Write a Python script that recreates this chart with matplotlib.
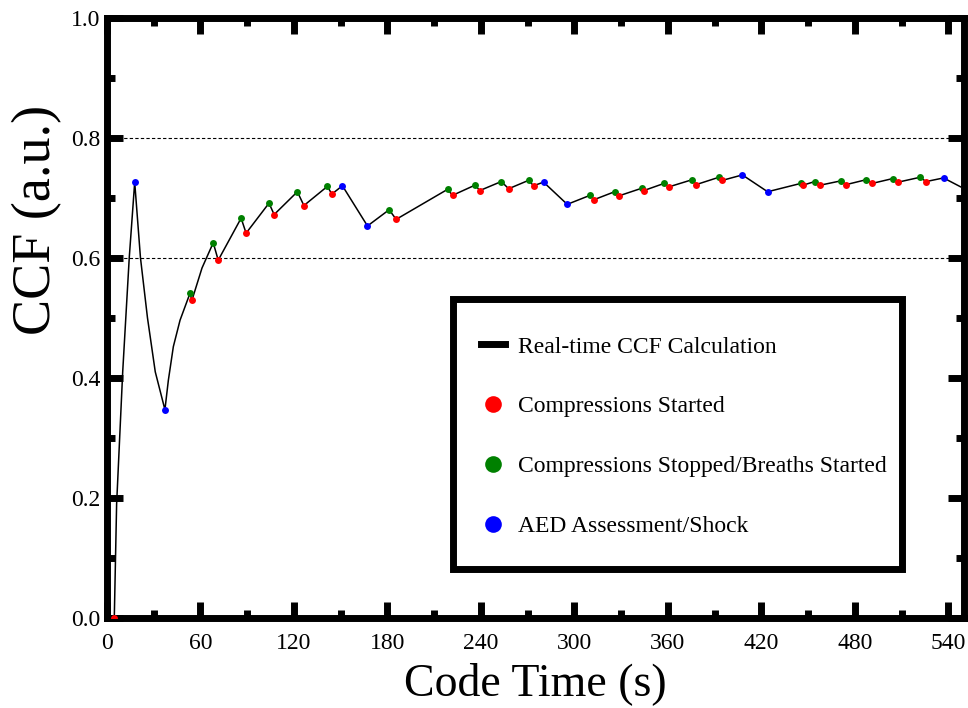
import matplotlib
matplotlib.use("Agg")
import matplotlib.pyplot as plt
from matplotlib.lines import Line2D
from matplotlib.patches import Rectangle
from matplotlib.ticker import MultipleLocator

# Ereignisse (Zeit in s, CCF-Wert)
started_t = [4.7, 54.5, 71.4, 89.3, 107.3, 126.4, 144.3, 185.6, 221.8, 239.3,
             257.8, 273.8, 312.8, 328.4, 344.6, 360.5, 378.3, 395.0, 446.8,
             457.9, 474.6, 491.3, 507.8, 525.8]
started_v = [0.0, 0.529, 0.596, 0.641, 0.672, 0.687, 0.706, 0.664, 0.704, 0.712,
             0.715, 0.720, 0.697, 0.703, 0.712, 0.718, 0.722, 0.729, 0.721,
             0.721, 0.722, 0.724, 0.726, 0.727]

stopped_t = [53.3, 68.2, 86.1, 104.0, 122.2, 141.5, 181.1, 218.6, 236.2, 253.1,
             270.6, 310.0, 325.8, 343.4, 357.7, 375.5, 392.6, 445.5, 454.3,
             470.8, 487.2, 504.4, 521.7]
stopped_v = [0.541, 0.625, 0.666, 0.691, 0.710, 0.719, 0.680, 0.714, 0.721, 0.727,
             0.729, 0.704, 0.710, 0.716, 0.724, 0.730, 0.734, 0.724, 0.727,
             0.728, 0.730, 0.732, 0.734]

aed_t = [17.8, 37.2, 151.1, 167.2, 280.2, 295.4, 407.8, 424.0, 536.9]
aed_v = [0.726, 0.347, 0.720, 0.653, 0.726, 0.689, 0.738, 0.710, 0.733]

# zusaetzliche Kurvenpunkte zwischen den Ereignissen
curve_t = [6.2, 10.1, 14.3, 21.5, 26.0, 31.0, 39.4, 42.6, 46.9, 61.0, 548.0]
curve_v = [0.19, 0.41, 0.60, 0.60, 0.50, 0.41, 0.396, 0.452, 0.496, 0.583, 0.718]

legend_labels = ["Real-time CCF Calculation", "Compressions Started",
                 "Compressions Stopped/Breaths Started", "AED Assessment/Shock"]

plt.rcParams["font.family"] = ["Liberation Serif", "DejaVu Serif"]

pts = sorted(zip(started_t + stopped_t + aed_t + curve_t,
                 started_v + stopped_v + aed_v + curve_v))
line_t = [p[0] for p in pts]
line_v = [p[1] for p in pts]

fig = plt.figure(figsize=(9.68, 7.08), dpi=100)
ax = fig.add_axes([0.1105, 0.1271, 0.8853, 0.848])

ax.plot(line_t, line_v, color="black", lw=1.1, zorder=2)
ax.plot(stopped_t, stopped_v, "o", color="#008000", ms=5, mew=0, zorder=3)
ax.plot(started_t, started_v, "o", color="#ff0000", ms=5, mew=0, zorder=4)
ax.plot(aed_t, aed_v, "o", color="#0000ff", ms=5, mew=0, zorder=5)

for yv in (0.6, 0.8):
    ax.axhline(yv, color="black", lw=0.8, ls=(0, (3, 2)), zorder=1)

ax.set_xlim(0, 550)
ax.set_ylim(0, 1.0)
ax.xaxis.set_major_locator(MultipleLocator(60))
ax.xaxis.set_minor_locator(MultipleLocator(30))
ax.yaxis.set_major_locator(MultipleLocator(0.2))
ax.yaxis.set_minor_locator(MultipleLocator(0.1))
ax.yaxis.set_major_formatter(plt.FormatStrFormatter("%.1f"))

for s in ax.spines.values():
    s.set_linewidth(5)
ax.tick_params(which="both", direction="in", top=True, right=True, width=5)
ax.tick_params(which="major", length=11.5, labelsize=17)
ax.tick_params(which="minor", length=5.8)
ax.tick_params(axis="x", pad=11)
ax.tick_params(axis="y", pad=5)

ax.set_xlabel("Code Time (s)", fontsize=33, labelpad=6)
# y-Beschriftung sitzt im Original oberhalb der Mitte
fig.text(37 / 968, 1 - 220 / 708, "CCF (a.u.)", fontsize=39, rotation=90,
         ha="center", va="center")

# Legendenrahmen separat (asymmetrische Innenabstaende)
frame = Rectangle((0.4043, 0.0819), 0.5236, 0.4501, transform=ax.transAxes,
                  facecolor="white", edgecolor="black", lw=5, zorder=6)
ax.add_patch(frame)

handles = [
    Line2D([], [], color="black", lw=5),
    Line2D([], [], ls="", marker="o", color="#ff0000", ms=12, mew=0),
    Line2D([], [], ls="", marker="o", color="#008000", ms=12, mew=0),
    Line2D([], [], ls="", marker="o", color="#0000ff", ms=12, mew=0),
]
leg = ax.legend(handles, legend_labels, loc="upper left",
                bbox_to_anchor=(0.4365, 0.4697), fontsize=17, frameon=False,
                handlelength=1.0, handletextpad=0.55, labelspacing=1.62,
                borderpad=0, borderaxespad=0)
leg.set_zorder(7)

fig.savefig("out.png", dpi=100)
